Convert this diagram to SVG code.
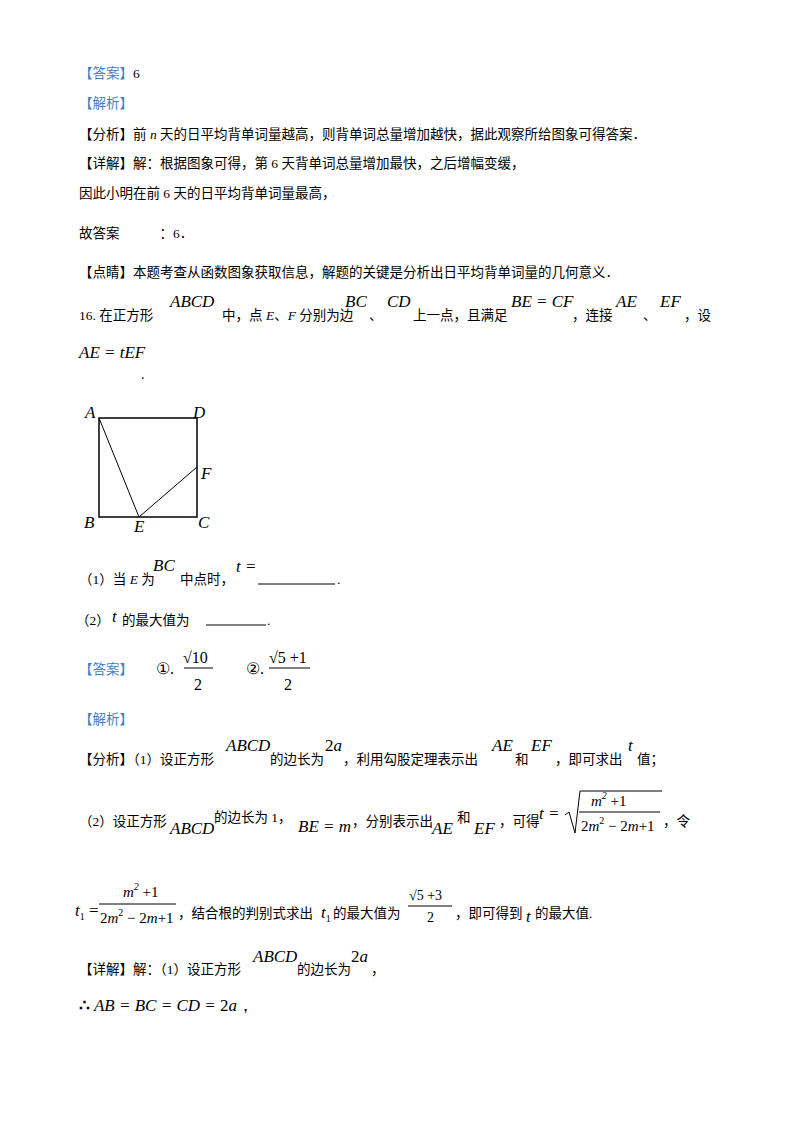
<svg xmlns="http://www.w3.org/2000/svg" width="800" height="1132" viewBox="0 0 800 1132">
<style>
text{font-family:"Liberation Serif","Noto Sans CJK SC",serif;font-size:14px;fill:#000}
.c{font-family:"Liberation Serif","Noto Sans CJK SC",serif;font-size:13.5px}
.b{fill:#3f7fc8}
.m{font-family:"Liberation Serif",serif;font-style:italic;font-size:17px}
.f{font-size:15px}
.n{font-family:"Liberation Serif",serif;font-size:16px}
line{stroke:#000;stroke-width:1}
</style>
<rect width="800" height="1132" fill="#fff"/>
<text x="79" y="78" class="c"><tspan class="b">【答案】</tspan>6</text>
<text x="79" y="108" class="c b">【解析】</text>
<text x="79" y="139" class="c">【分析】前 <tspan font-style="italic">n</tspan> 天的日平均背单词量越高，则背单词总量增加越快，据此观察所给图象可得答案．</text>
<text x="79" y="168" class="c">【详解】解：根据图象可得，第 6 天背单词总量增加最快，之后增幅变缓，</text>
<text x="79" y="198" class="c">因此小明在前 6 天的日平均背单词量最高，</text>
<text x="79" y="238" class="c">故答案<tspan dx="40">：6．</tspan></text>
<text x="79" y="277" class="c">【点睛】本题考查从函数图象获取信息，解题的关键是分析出日平均背单词量的几何意义．</text>
<g id="q16">
<text x="79" y="320" class="c">16. 在正方形</text>
<text x="170" y="307" class="m">ABCD</text>
<text x="222" y="320" class="c">中，点 <tspan font-style="italic">E</tspan>、<tspan font-style="italic">F</tspan> 分别为边</text>
<text x="345" y="307" class="m">BC</text>
<text x="369" y="320" class="c">、</text>
<text x="387" y="307" class="m">CD</text>
<text x="413" y="320" class="c">上一点，且满足</text>
<text x="511" y="307" class="m">BE = CF</text>
<text x="572" y="320" class="c">，连接</text>
<text x="616" y="307" class="m">AE</text>
<text x="643" y="320" class="c">、</text>
<text x="660" y="307" class="m">EF</text>
<text x="684" y="320" class="c">，设</text>
<text x="79" y="358" class="m">AE = tEF</text>
<text x="141" y="379">.</text>
</g>
<g id="figure" fill="none">
<rect x="99" y="418" width="98" height="99" fill="none" stroke="#000" stroke-width="1.5"/>
<line x1="99" y1="418" x2="139" y2="517" stroke-width="1.5"/>
<line x1="139" y1="517" x2="197" y2="467" stroke-width="1.5"/>
<text x="85" y="418" class="m" font-size="15">A</text>
<text x="193" y="418" class="m" font-size="15">D</text>
<text x="201" y="479" class="m" font-size="15">F</text>
<text x="84" y="528" class="m" font-size="15">B</text>
<text x="134" y="532" class="m" font-size="15">E</text>
<text x="198" y="528" class="m" font-size="15">C</text>
</g>
<g id="parts">
<text x="79" y="584" class="c">（1）当 <tspan font-style="italic">E</tspan> 为</text>
<text x="153" y="571" class="m">BC</text>
<text x="180" y="584" class="c">中点时，</text>
<text x="236" y="572" class="m">t =</text>
<line x1="258" y1="584" x2="335" y2="584"/>
<text x="337" y="584" class="c">.</text>
<text x="76" y="625" class="c">（2）</text>
<text x="112" y="622" class="m">t</text>
<text x="122" y="625" class="c">的最大值为</text>
<line x1="206" y1="625" x2="266" y2="625"/>
<text x="267" y="625" class="c">.</text>
</g>
<g id="answer">
<text x="79" y="674" class="c b">【答案】</text>
<text x="156" y="674" class="n">①.</text>
<text x="183" y="663" class="n">√10</text>
<line x1="184" y1="668" x2="213" y2="668"/>
<text x="194" y="690" class="n">2</text>
<text x="246" y="674" class="n">②.</text>
<text x="269" y="663" class="n">√5 +1</text>
<line x1="269" y1="668" x2="310" y2="668"/>
<text x="284" y="690" class="n">2</text>
</g>
<text x="79" y="724" class="c b">【解析】</text>
<g id="analysis">
<text x="79" y="764" class="c">【分析】（1）设正方形</text>
<text x="226" y="751" class="m">ABCD</text>
<text x="270" y="764" class="c">的边长为</text>
<text x="325" y="751" class="m"><tspan font-style="normal">2</tspan>a</text>
<text x="343" y="764" class="c">，利用勾股定理表示出</text>
<text x="492" y="751" class="m">AE</text>
<text x="515" y="764" class="c">和</text>
<text x="531" y="751" class="m">EF</text>
<text x="555" y="764" class="c">，即可求出</text>
<text x="628" y="751" class="m">t</text>
<text x="637" y="764" class="c">值；</text>
<text x="79" y="826" class="c">（2）设正方形</text>
<text x="170" y="834" class="m">ABCD</text>
<text x="214" y="822" class="c">的边长为 1，</text>
<text x="298" y="832" class="m">BE = m</text>
<text x="352" y="826" class="c">，分别表示出</text>
<text x="432" y="834" class="m">AE</text>
<text x="457" y="822" class="c">和</text>
<text x="474" y="834" class="m">EF</text>
<text x="499" y="826" class="c">，可得</text>
<text x="539" y="819" class="m">t =</text>
<polyline points="565,815 569,812 575,833 580,791 662,791" fill="none" stroke="#000" stroke-width="1"/>
<text x="591" y="806" class="m f">m<tspan font-size="10" dy="-7">2</tspan><tspan dy="7" font-style="normal"> +1</tspan></text>
<line x1="579" y1="812" x2="660" y2="812"/>
<text x="581" y="831" class="m f"><tspan font-style="normal">2</tspan>m<tspan font-size="10" dy="-7" font-style="normal">2</tspan><tspan dy="7" font-style="normal"> − 2</tspan>m<tspan font-style="normal">+1</tspan></text>
<text x="663" y="826" class="c">，令</text>
<text x="75" y="916" class="m">t<tspan font-size="10" dy="4" font-style="normal">1</tspan><tspan dy="-4" font-style="normal"> =</tspan></text>
<text x="123" y="897" class="m f">m<tspan font-size="10" dy="-7">2</tspan><tspan dy="7" font-style="normal"> +1</tspan></text>
<line x1="99" y1="904" x2="176" y2="904"/>
<text x="100" y="923" class="m f"><tspan font-style="normal">2</tspan>m<tspan font-size="10" dy="-7" font-style="normal">2</tspan><tspan dy="7" font-style="normal"> − 2</tspan>m<tspan font-style="normal">+1</tspan></text>
<text x="178" y="918" class="c">，结合根的判别式求出</text>
<text x="321" y="918" class="m">t<tspan font-size="10" dy="4" font-style="normal">1</tspan></text>
<text x="333" y="918" class="c">的最大值为</text>
<text x="409" y="900" font-size="13">√5 +3</text>
<line x1="408" y1="906" x2="452" y2="906"/>
<text x="427" y="922" font-size="13">2</text>
<text x="455" y="918" class="c">，即可得到</text>
<text x="526" y="922" class="m">t</text>
<text x="535" y="918" class="c">的最大值.</text>
</g>
<g id="detail">
<text x="79" y="974" class="c">【详解】解：（1）设正方形</text>
<text x="253" y="962" class="m">ABCD</text>
<text x="297" y="974" class="c">的边长为</text>
<text x="351" y="962" class="m"><tspan font-style="normal">2</tspan>a</text>
<text x="371" y="974" class="c">，</text>
<text x="79" y="1011" class="m" font-size="14"><tspan font-style="normal" font-weight="bold">∴</tspan> AB = BC = CD = <tspan font-style="normal">2</tspan>a<tspan font-style="normal">，</tspan></text>
</g>
</svg>
